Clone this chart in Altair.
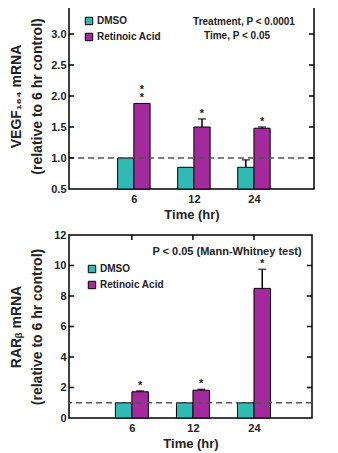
import altair as alt
import pandas as pd

# ---------------- data ----------------
times = ["6", "12", "24"]
positions = [1, 2, 3]
groups = ["DMSO", "Retinoic Acid"]
colors = ["#2fbab3", "#a3299c"]

vegf_dmso = [1.00, 0.85, 0.85]
vegf_dmso_err = [0.0, 0.0, 0.12]
vegf_ra = [1.88, 1.50, 1.48]
vegf_ra_err = [0.0, 0.13, 0.02]
vegf_sig = ["**", "*", "*"]
vegf_ticks = [1.0, 1.5, 2.0, 2.5, 3.0]
vegf_labels = [0.5, 1.0, 1.5, 2.0, 2.5, 3.0, 3.5]

rar_dmso = [1.0, 1.0, 1.0]
rar_dmso_err = [0.0, 0.0, 0.0]
rar_ra = [1.72, 1.82, 8.5]
rar_ra_err = [0.06, 0.06, 1.25]
rar_sig = ["*", "*", "*"]
rar_ticks = [2, 4, 6, 8, 10]
rar_labels = [0, 2, 4, 6, 8, 10, 12]

FONT = "Liberation Sans"
BAR_W = 0.27


def make_df(dmso, dmso_err, ra, ra_err, sig):
    rows = []
    for i, t in enumerate(times):
        rows.append(dict(time=t, pos=positions[i], group=groups[0], value=dmso[i],
                         err=dmso_err[i], sig=""))
        rows.append(dict(time=t, pos=positions[i], group=groups[1], value=ra[i],
                         err=ra_err[i], sig=sig[i]))
    return pd.DataFrame(rows)


def panel(df, ydom, ybase, xdom, ticks, labels, fmt, width, height, ytitle,
          lx, ly, notes):
    xscale = alt.Scale(domain=xdom, nice=False, zero=False)
    yscale = alt.Scale(domain=ydom, nice=False, zero=False)
    label_expr = "[" + ",".join(f"'{t}'" for t in times) + "][datum.value - 1]"
    xaxis = alt.Axis(values=positions, labelExpr=label_expr, title="Time (hr)",
                     ticks=False, grid=False, domain=False, labelPadding=4,
                     labelFontSize=11, labelFontWeight="bold", labelFont=FONT,
                     titleFontSize=13, titleFont=FONT, titleFontWeight="bold",
                     titlePadding=4, titleColor="#222", labelColor="#222")
    yaxis = alt.Axis(values=labels, format=fmt, title=ytitle, ticks=False,
                     grid=False, domain=False, labelPadding=3,
                     labelOverlap=False, labelFlush=False,
                     labelFontSize=11, labelFontWeight="bold", labelFont=FONT,
                     titleFontSize=14, titleFont=FONT, titleFontWeight="bold",
                     titleLineHeight=21, titlePadding=5, titleColor="#222",
                     labelColor="#222", minExtent=20, maxExtent=20)

    def X(f):
        return alt.X(f, scale=xscale, axis=xaxis)

    def Y(f):
        return alt.Y(f, scale=yscale, axis=yaxis)

    base = alt.Chart(df).transform_calculate(
        x0=f"datum.group == '{groups[0]}' ? datum.pos - {BAR_W} : datum.pos",
    ).transform_calculate(
        x1=f"datum.x0 + {BAR_W}",
        xc=f"datum.x0 + {BAR_W / 2}",
        top="datum.value + datum.err",
    )
    bars = base.mark_bar(stroke="black", strokeWidth=1).encode(
        x=X("x0:Q"),
        x2="x1:Q",
        y=Y("value:Q"),
        y2=alt.datum(ybase),
        color=alt.Color("group:N", scale=alt.Scale(domain=groups, range=colors),
                        legend=alt.Legend(orient="none", legendX=lx, legendY=ly, title=None,
                                          symbolType="square", symbolSize=55,
                                          symbolStrokeColor="black", symbolStrokeWidth=1,
                                          labelFont=FONT, labelFontSize=10,
                                          labelFontWeight="bold", labelColor="#222",
                                          rowPadding=4, padding=0, labelOffset=3)),
    )
    errs = base.transform_filter("datum.err > 0")
    err_rule = errs.mark_rule(color="black", strokeWidth=1.5).encode(
        x=X("xc:Q"), y=Y("value:Q"), y2="top:Q")
    err_cap = errs.mark_tick(color="black", orient="horizontal", size=8,
                             thickness=1.5).encode(x=X("xc:Q"), y=Y("top:Q"))
    sigs = base.transform_filter("datum.sig != ''")
    sig1 = sigs.mark_text(
        font=FONT, fontSize=11, fontWeight="bold", baseline="bottom", dy=0,
        color="#222").encode(x=X("xc:Q"), y=Y("top:Q"), text=alt.value("*"))
    sig2 = sigs.transform_filter("length(datum.sig) > 1").mark_text(
        font=FONT, fontSize=11, fontWeight="bold", baseline="bottom", dy=-8,
        color="#222").encode(x=X("xc:Q"), y=Y("top:Q"), text=alt.value("*"))
    ref = alt.Chart(pd.DataFrame({"ref": [1.0]})).mark_rule(
        color="#555", strokeDash=[6, 4], strokeWidth=1.5).encode(y=Y("ref:Q"))
    tick_df = pd.DataFrame({"t": ticks})
    lt = alt.Chart(tick_df).mark_rule(color="black", strokeWidth=1.5).encode(
        y=Y("t:Q"), x=alt.value(0), x2=alt.value(5))
    rt = alt.Chart(tick_df).mark_rule(color="black", strokeWidth=1.5).encode(
        y=Y("t:Q"), x=alt.value(width - 5), x2=alt.value(width))
    tt = alt.Chart(pd.DataFrame({"p": positions})).mark_rule(
        color="black", strokeWidth=1.5).encode(x=X("p:Q"),
                                               y=alt.value(0), y2=alt.value(5))
    layers = [bars, ref, err_rule, err_cap, sig1, sig2, lt, rt, tt]
    for text, px, py, fs in notes:
        layers.append(alt.Chart(pd.DataFrame({"n": [text]})).mark_text(
            font=FONT, fontSize=fs, fontWeight="bold", color="#222").encode(
            x=alt.value(px), y=alt.value(py), text="n:N"))
    return alt.layer(*layers).properties(width=width, height=height)


vegf_df = make_df(vegf_dmso, vegf_dmso_err, vegf_ra, vegf_ra_err, vegf_sig)
rar_df = make_df(rar_dmso, rar_dmso_err, rar_ra, rar_ra_err, rar_sig)

top = panel(vegf_df, [0.5, 3.5], 0.5, [-0.08, 4.0], vegf_ticks, vegf_labels, ".1f",
            245, 186, ["VEGF₁₆₄ mRNA", "(relative to 6 hr control)"], 15, 13,
            [("Treatment, P < 0.0001", 175, 19, 10), ("Time, P < 0.05", 168, 33, 10)])
bottom = panel(rar_df, [0, 12], 0, [-0.03, 3.95], rar_ticks, rar_labels, "d",
               243, 183, ["RARᵦ mRNA", "(relative to 6 hr control)"], 18, 29,
               [("P < 0.05 (Mann-Whitney test)", 158, 17, 11)])

chart = alt.vconcat(top, bottom, spacing=6).resolve_scale(
    x="independent", y="independent").resolve_legend(color="independent").properties(
    padding={"left": 0, "top": -12, "right": 0, "bottom": 0}
).configure_view(stroke="black", strokeWidth=1.5).configure_axis(labelOverlap=False)

chart.save("out.html", embed_options={"renderer": "svg", "actions": False})
